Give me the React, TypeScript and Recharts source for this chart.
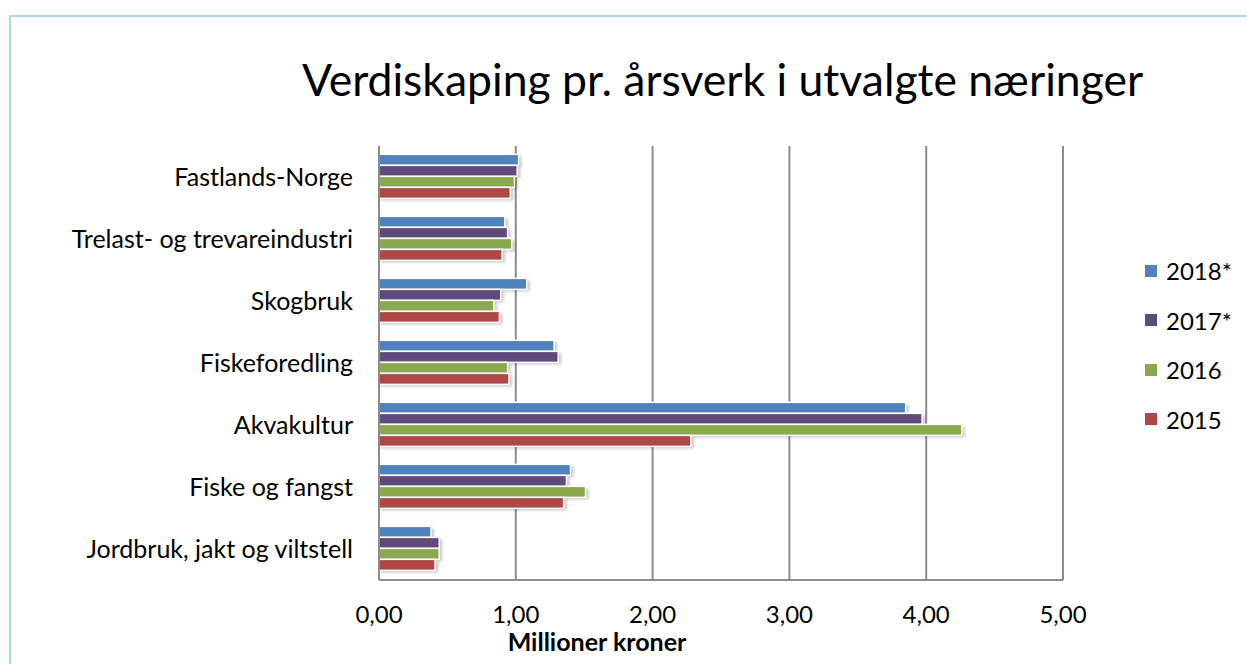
import React from 'react';
import { BarChart, Bar, XAxis, YAxis, CartesianGrid, Legend, Label } from 'recharts';

const categories = [
  'Fastlands-Norge',
  'Trelast- og trevareindustri',
  'Skogbruk',
  'Fiskeforedling',
  'Akvakultur',
  'Fiske og fangst',
  'Jordbruk, jakt og viltstell',
];
const v2018 = [1.02, 0.92, 1.08, 1.28, 3.85, 1.40, 0.38];
const v2017 = [1.01, 0.94, 0.89, 1.31, 3.97, 1.37, 0.44];
const v2016 = [0.99, 0.97, 0.84, 0.94, 4.26, 1.51, 0.44];
const v2015 = [0.96, 0.90, 0.88, 0.95, 2.28, 1.35, 0.41];
const xTicks = [0, 1, 2, 3, 4, 5];

const seriesNames = ['2018*', '2017*', '2016', '2015'];
const seriesColors = ['#4f81bd', '#5f4a7b', '#8aa84e', '#ae4745'];

const data = categories.map((name, i) => ({
  name,
  s2018: v2018[i],
  s2017: v2017[i],
  s2016: v2016[i],
  s2015: v2015[i],
}));
const keys = ['s2018', 's2017', 's2016', 's2015'];

const FONT = 'Lato, "Open Sans", sans-serif';

const ShadowBar = (props: any) => {
  const { x, y, width, height, fill } = props;
  if (!width || width <= 0) return null;
  return (
    <g>
      <defs>
        <filter id="barShadow" x="-10%" y="-50%" width="120%" height="200%">
          <feGaussianBlur stdDeviation="1.5" />
        </filter>
      </defs>
      <rect x={x + 1} y={y + 2} width={width + 2} height={height} fill="#000" opacity={0.22} filter="url(#barShadow)" />
      <rect x={x} y={y} width={width} height={height} fill={fill} stroke="#fff" strokeWidth={1.5} />
    </g>
  );
};

const renderLegend = (props: any) => {
  const payload = (props.payload || []).slice();
  payload.sort((a: any, b: any) => seriesNames.indexOf(a.value) - seriesNames.indexOf(b.value));
  return (
    <div style={{ fontFamily: FONT }}>
      {payload.map((entry: any) => (
        <div key={entry.value} style={{ height: 49.5, display: 'flex', alignItems: 'center' }}>
          <span style={{ display: 'inline-block', width: 12, height: 12, background: entry.color, marginRight: 9 }} />
          <span style={{ fontSize: 24, color: '#000' }}>{entry.value}</span>
        </div>
      ))}
    </div>
  );
};

export default function App() {
  return (
    <div style={{ position: 'absolute', left: 0, top: 0, width: 1247, height: 664, overflow: 'hidden', background: '#fff' }}>
      <div style={{ position: 'absolute', left: 9, top: 15, width: 1400, height: 800, border: '2px solid #a3dde9' }} />
      <div style={{ position: 'absolute', left: 0, top: 0 }}>
        <BarChart
          width={1247}
          height={664}
          layout="vertical"
          data={data}
          margin={{ top: 146, right: 184, bottom: 0, left: 0 }}
          barCategoryGap="13.5%"
          barGap={0}
        >
          <CartesianGrid horizontal={false} vertical stroke="#8c8c8c" strokeWidth={2} />
          <XAxis
            type="number"
            domain={[0, 5]}
            ticks={xTicks}
            height={84}
            tickFormatter={(v: number) => v.toFixed(2).replace('.', ',')}
            axisLine={{ stroke: '#8c8c8c', strokeWidth: 2 }}
            tickLine={false}
            tickMargin={20}
            tick={{ fill: '#000', fontSize: 24, fontFamily: FONT }}
          >
            <Label
              value="Millioner kroner"
              position="insideBottom"
              offset={13}
              dx={-124}
              style={{ fontFamily: FONT, fontSize: 25, fontWeight: 700, fill: '#000' }}
            />
          </XAxis>
          <YAxis
            type="category"
            dataKey="name"
            width={379}
            axisLine={{ stroke: '#8c8c8c', strokeWidth: 2 }}
            tickLine={false}
            tickMargin={20}
            tick={{ fill: '#000', fontSize: 25, fontFamily: FONT }}
          />
          <Legend
            layout="horizontal"
            verticalAlign="middle"
            align="center"
            content={renderLegend}
            wrapperStyle={{ left: 1145, top: 246, width: 100 }}
          />
          {keys.map((k, i) => (
            <Bar
              key={k}
              dataKey={k}
              name={seriesNames[i]}
              fill={seriesColors[i]}
              shape={ShadowBar}
              isAnimationActive={false}
            />
          ))}
        </BarChart>
      </div>
      <div
        style={{
          position: 'absolute',
          left: 0,
          width: 1445,
          top: 52,
          textAlign: 'center',
          fontFamily: FONT,
          fontSize: 44.5,
          color: '#000',
          whiteSpace: 'nowrap',
        }}
      >
        Verdiskaping pr. årsverk i utvalgte næringer
      </div>
    </div>
  );
}
